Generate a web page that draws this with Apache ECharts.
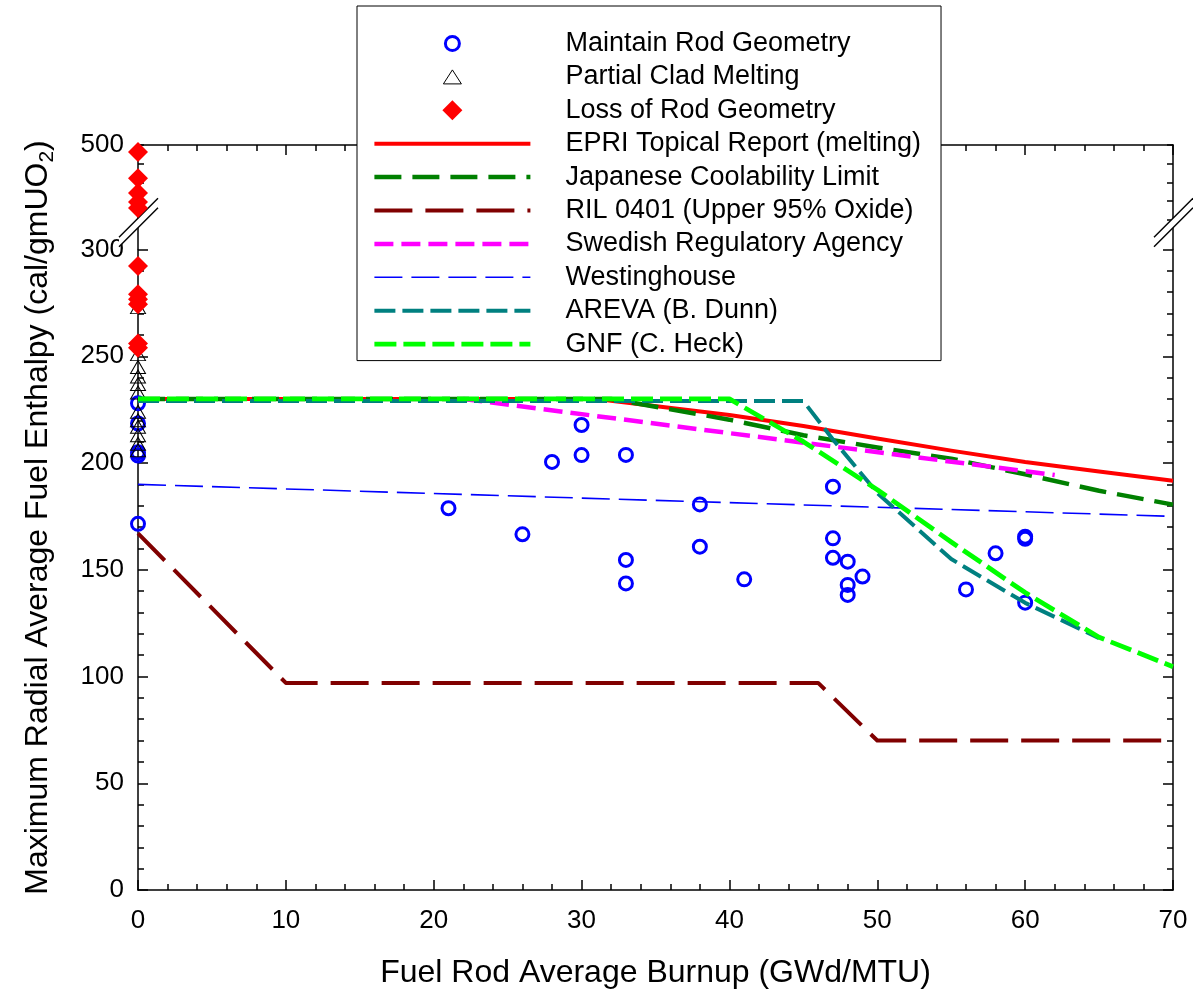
<!DOCTYPE html>
<html>
<head>
<meta charset="utf-8">
<script src="https://cdn.jsdelivr.net/npm/echarts@6/dist/echarts.min.js"></script>
<style>html,body{margin:0;padding:0;background:#fff}#c{width:1193px;height:994px}</style>
</head>
<body>
<div id="c"></div>
<script>
// ---------------- data ----------------
const X_MIN = 0, X_MAX = 70, X_STEP = 10;
const LOW_MIN = 0, LOW_MAX = 300, LOW_STEP = 50;
const HIGH_MIN = 420, HIGH_MAX = 500, HIGH_STEP = 20;
const HIGH_LABELS = [500];

const maintainBurnup   = [0, 0, 0, 0, 0, 21, 26, 28, 30, 30, 33, 33, 33, 38, 38, 41, 47, 47, 47, 48, 48, 48, 49, 56, 58, 60, 60, 60];
const maintainEnthalpy = [228, 218.5, 205, 203.5, 171.5, 178.8, 166.6, 200.5, 217.8, 203.7, 203.8, 154.6, 143.6, 180.6, 160.8, 145.5, 188.9, 164.7, 155.6, 153.8, 142.9, 138.2, 146.8, 140.8, 157.7, 165.5, 164.5, 134.6];

const meltBurnup   = [0, 0, 0, 0, 0, 0, 0, 0, 0, 0, 0, 0];
const meltEnthalpy = [273, 251, 245, 240.5, 237, 233, 224, 220, 217, 213, 209, 206];

const lossBurnup   = [0, 0, 0, 0, 0, 0];
const lossEnthalpy = [292.3, 279, 276.7, 274.3, 256, 254];

const lossHighBurnup   = [0, 0, 0, 0, 0];
const lossHighEnthalpy = [492.5, 464.5, 448.5, 439, 432.5];

const epriBurnup   = [0, 31, 40, 45, 50, 55, 60, 65, 70];
const epriEnthalpy = [230, 230, 222.5, 217.3, 211.5, 205.8, 200.5, 196, 191.7];

const japanBurnup   = [0, 32, 40, 45, 50, 55, 60, 65, 70];
const japanEnthalpy = [230, 230, 220.3, 213, 207.3, 202, 194.7, 187, 180.5];

const rilBurnup   = [0, 10, 46, 50, 70];
const rilEnthalpy = [167, 97, 97, 70, 70];

const swedBurnup   = [22, 62];
const swedEnthalpy = [230, 194.4];

const westBurnup   = [0, 70];
const westEnthalpy = [190, 175];

const arevaBurnup   = [0, 45, 47, 50, 55, 60, 65];
const arevaEnthalpy = [229, 229, 211, 186, 155, 134.5, 118];

const gnfBurnup   = [0, 40, 45, 50, 55, 60, 65, 70];
const gnfEnthalpy = [230, 230, 210, 187.5, 163, 139.3, 118.4, 104.6];

// ---------------- chart ----------------
const FONT = '"Liberation Sans", Arial, Helvetica, sans-serif';
const zip = (xs, ys) => xs.map((x, i) => [x, ys[i]]);
const chart = echarts.init(document.getElementById('c'), null, {renderer: 'canvas'});

const AX = {color: '#000', width: 1.5};
function baseAxis(o) {
  return Object.assign({
    type: 'value',
    axisLine: {show: true, onZero: false, lineStyle: AX},
    axisTick: {show: true, inside: true, length: 10, lineStyle: AX},
    minorTick: {show: true, splitNumber: 5, length: 6, lineStyle: AX},
    splitLine: {show: false},
    minorSplitLine: {show: false},
    axisLabel: {show: false}
  }, o);
}
const tickLabel = {show: true, fontSize: 26, color: '#000', fontFamily: FONT};

const lineSeries = (name, xs, ys, color, width, dash) => ({
  name, type: 'line', xAxisIndex: 0, yAxisIndex: 0,
  data: zip(xs, ys), symbol: 'none', silent: true, z: 3,
  itemStyle: {color},
  lineStyle: {color, width, type: dash, cap: 'butt', join: 'round', opacity: 1}
});

const lines = [
  lineSeries('EPRI Topical Report (melting)', epriBurnup, epriEnthalpy, '#FF0000', 4, 'solid'),
  lineSeries('Japanese Coolability Limit', japanBurnup, japanEnthalpy, '#008000', 4.5, [27, 11]),
  lineSeries('RIL 0401 (Upper 95% Oxide)', rilBurnup, rilEnthalpy, '#800000', 4, [38, 13]),
  lineSeries('Swedish Regulatory Agency', swedBurnup, swedEnthalpy, '#FF00FF', 4.5, [19, 8]),
  lineSeries('Westinghouse', westBurnup, westEnthalpy, '#0000FF', 1.6, [28, 9]),
  lineSeries('AREVA (B. Dunn)', arevaBurnup, arevaEnthalpy, '#008080', 4, [21, 7]),
  lineSeries('GNF (C. Heck)', gnfBurnup, gnfEnthalpy, '#00FF00', 4.8, [22, 7])
];

const hideSym = {color: 'rgba(0,0,0,0)', borderWidth: 0, opacity: 0};
// legend icon shapes (padded to a 20x20 box so their relative sizes are kept)
const ICON_CIRCLE = 'path://M-10,-10M10,10M0,-7A7,7,0,1,1,0,7A7,7,0,1,1,0,-7Z';
const ICON_TRIANGLE = 'path://M-10,-10M10,10M0,-7L9,7L-9,7Z';
const ICON_DIAMOND = 'path://M0,-10L10,0L0,10L-10,0Z';

const option = {
  animation: false,
  backgroundColor: '#fff',
  textStyle: {fontFamily: FONT},
  grid: [
    {left: 138, right: 20, top: 249.5, bottom: 104, outerBoundsMode: 'none', containLabel: false},
    {left: 138, right: 20, top: 145, height: 74.67, outerBoundsMode: 'none', containLabel: false}
  ],
  xAxis: [
    baseAxis({gridIndex: 0, position: 'bottom', min: X_MIN, max: X_MAX, interval: X_STEP,
      axisLabel: Object.assign({margin: 18}, tickLabel),
      name: 'Fuel Rod Average Burnup (GWd/MTU)', nameLocation: 'middle', nameGap: 67,
      nameTextStyle: {fontSize: 32, color: '#000', fontFamily: FONT}}),
    baseAxis({gridIndex: 1, position: 'top', min: X_MIN, max: X_MAX, interval: X_STEP})
  ],
  yAxis: [
    baseAxis({gridIndex: 0, position: 'left', min: LOW_MIN, max: LOW_MAX, interval: LOW_STEP,
      axisLabel: Object.assign({margin: 14}, tickLabel)}),
    baseAxis({gridIndex: 0, position: 'right', min: LOW_MIN, max: LOW_MAX, interval: LOW_STEP}),
    baseAxis({gridIndex: 1, position: 'left', min: HIGH_MIN, max: HIGH_MAX, interval: HIGH_STEP,
      axisTick: {show: true, inside: true, length: 6, lineStyle: AX}, minorTick: {show: false},
      axisLabel: Object.assign({margin: 14, formatter: v => HIGH_LABELS.includes(v) ? String(v) : ''}, tickLabel)}),
    baseAxis({gridIndex: 1, position: 'right', min: HIGH_MIN, max: HIGH_MAX, interval: HIGH_STEP,
      axisTick: {show: true, inside: true, length: 6, lineStyle: AX}, minorTick: {show: false}})
  ],
  legend: {
    orient: 'vertical', left: 357, top: 6,
    padding: [24, 20, 3, 15],
    itemWidth: 156, itemHeight: 20, itemGap: 6.4,
    symbolKeepAspect: true,
    backgroundColor: '#fff', borderColor: '#000', borderWidth: 1,
    selectedMode: false, z: 10,
    textStyle: {fontSize: 27, lineHeight: 26, color: '#000', fontFamily: FONT, padding: [0, 0, 0, 30]},
    data: [
      {name: 'Maintain Rod Geometry', icon: ICON_CIRCLE, itemStyle: {color: 'rgba(0,0,0,0)', borderColor: '#0000FF', borderWidth: 3, opacity: 1}},
      {name: 'Partial Clad Melting', icon: ICON_TRIANGLE, itemStyle: {color: 'rgba(0,0,0,0)', borderColor: '#000', borderWidth: 1, opacity: 1}},
      {name: 'Loss of Rod Geometry', icon: ICON_DIAMOND, itemStyle: {color: '#FF0000', borderWidth: 0, opacity: 1}},
      {name: 'EPRI Topical Report (melting)', itemStyle: hideSym, lineStyle: {width: 4}},
      {name: 'Japanese Coolability Limit', itemStyle: hideSym, lineStyle: {width: 4.5}},
      {name: 'RIL 0401 (Upper 95% Oxide)', itemStyle: hideSym, lineStyle: {width: 4}},
      {name: 'Swedish Regulatory Agency', itemStyle: hideSym, lineStyle: {width: 4.5}},
      {name: 'Westinghouse', itemStyle: hideSym, lineStyle: {width: 1.6}},
      {name: 'AREVA (B. Dunn)', itemStyle: hideSym, lineStyle: {width: 4}},
      {name: 'GNF (C. Heck)', itemStyle: hideSym, lineStyle: {width: 4.8}}
    ]
  },
  series: [
    {name: 'Maintain Rod Geometry', type: 'scatter', xAxisIndex: 0, yAxisIndex: 0, silent: true, z: 2,
     data: zip(maintainBurnup, maintainEnthalpy), symbol: 'circle', symbolSize: 13, clip: false,
     itemStyle: {color: 'rgba(0,0,0,0)', borderColor: '#0000FF', borderWidth: 3, opacity: 1}},
    {name: 'Partial Clad Melting', type: 'scatter', xAxisIndex: 0, yAxisIndex: 0, silent: true, z: 2,
     data: zip(meltBurnup, meltEnthalpy), symbol: 'triangle', symbolSize: [15, 13], clip: false,
     itemStyle: {color: 'rgba(0,0,0,0)', borderColor: '#000', borderWidth: 1, opacity: 1}},
    {name: 'Loss of Rod Geometry', type: 'scatter', xAxisIndex: 0, yAxisIndex: 0, silent: true, z: 2,
     data: zip(lossBurnup, lossEnthalpy), symbol: 'diamond', symbolSize: 20, clip: false,
     itemStyle: {color: '#FF0000', opacity: 1}},
    {name: 'Loss of Rod Geometry', type: 'scatter', xAxisIndex: 1, yAxisIndex: 2, silent: true, z: 2,
     data: zip(lossHighBurnup, lossHighEnthalpy), symbol: 'diamond', symbolSize: 20, clip: false,
     itemStyle: {color: '#FF0000', opacity: 1}}
  ].concat(lines)
};
chart.setOption(option);

// ---------- axis break marks and y title ----------
const pUpL = chart.convertToPixel({xAxisIndex: 1, yAxisIndex: 2}, [X_MIN, HIGH_MIN]);
const pUpR = chart.convertToPixel({xAxisIndex: 1, yAxisIndex: 2}, [X_MAX, HIGH_MIN]);
const pLowTop = chart.convertToPixel({xAxisIndex: 0, yAxisIndex: 0}, [X_MIN, LOW_MAX]);
const pLowBot = chart.convertToPixel({xAxisIndex: 0, yAxisIndex: 0}, [X_MIN, LOW_MIN]);
const pTop = chart.convertToPixel({xAxisIndex: 1, yAxisIndex: 2}, [X_MIN, HIGH_MAX]);
const g = [];
[pUpL[0], pUpR[0]].forEach(ax => {
  g.push({type: 'line', z: 1, shape: {x1: ax, y1: pUpL[1], x2: ax, y2: pLowTop[1]}, style: {stroke: '#000', lineWidth: 1.5}});
  const b1 = pUpL[1] - 1.5, b2 = b1 + 9.5, l = 19, r = 20;
  g.push({type: 'polygon', z: 1, shape: {points: [[ax - l, b1 + l], [ax + r, b1 - r], [ax + r, b2 - r], [ax - l, b2 + l]]}, style: {fill: '#fff'}});
  g.push({type: 'line', z: 1, shape: {x1: ax - l, y1: b1 + l, x2: ax + r, y2: b1 - r}, style: {stroke: '#000', lineWidth: 1.5}});
  g.push({type: 'line', z: 1, shape: {x1: ax - l, y1: b2 + l, x2: ax + r, y2: b2 - r}, style: {stroke: '#000', lineWidth: 1.5}});
});
g.push({
  type: 'text', z: 5, x: 38, y: (pTop[1] + pLowBot[1]) / 2, rotation: Math.PI / 2,
  style: {
    text: 'Maximum Radial Average Fuel Enthalpy (cal/gmUO{sub|2})',
    fontSize: 32, fontFamily: FONT, fill: '#000', lineHeight: 40,
    align: 'center', verticalAlign: 'middle',
    rich: {sub: {fontSize: 21, fontFamily: FONT, fill: '#000', lineHeight: 21, verticalAlign: 'bottom'}}
  }
});
chart.setOption({graphic: g});
</script>
</body>
</html>
